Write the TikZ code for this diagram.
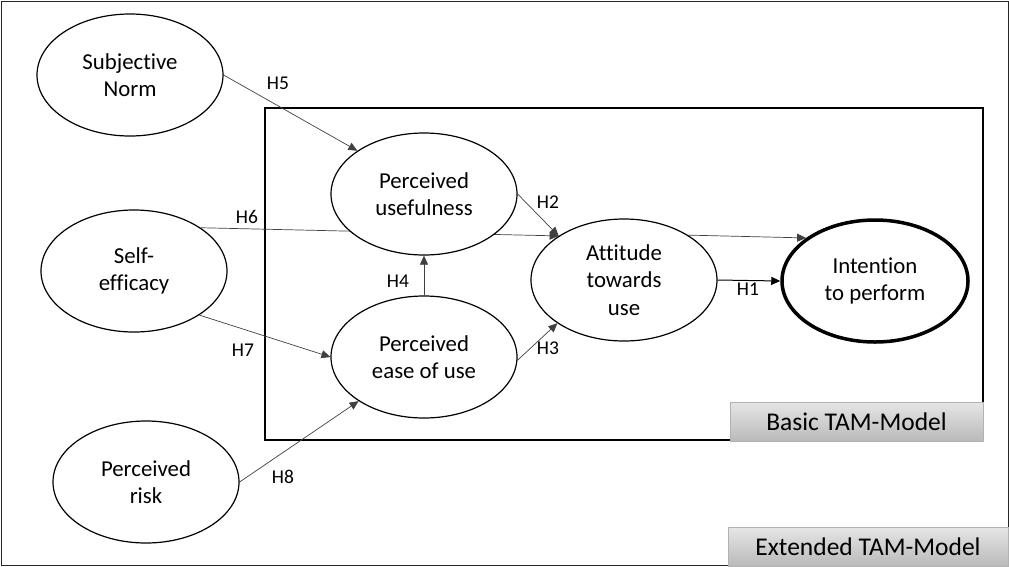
\documentclass[tikz,border=0pt]{standalone}
\usepackage{fontspec}
\setmainfont[Ligatures=NoCommon]{Carlito}
\usetikzlibrary{shapes.geometric,arrows.meta,backgrounds}

\tikzset{
  construct/.style={ellipse, draw, line width=1.2pt, fill=white,
    minimum width=186pt, minimum height=122pt, inner sep=0pt,
    align=center, font=\fontsize{22.8}{27.5}\selectfont},
  hyp/.style={->, draw=black!75, line width=0.7pt},
  hlabel/.style={inner sep=0pt, font=\fontsize{19.5}{23}\selectfont},
  modeltag/.style={draw=black!30, top color=black!10, bottom color=black!27,
    inner sep=0pt, minimum height=39pt, font=\fontsize{25.5}{30}\selectfont},
}

\begin{document}
\begin{tikzpicture}[x=1pt, y=-1pt, >={Triangle[length=9pt,width=8pt]}]
	\useasboundingbox (0,0) rectangle (1009,566);
	% constructs
	\node[construct] (sn) at (130,75) {Subjective\\Norm};
	\node[construct] (se) at (134,271) {Self-\\efficacy};
	\node[construct] (pr) at (146,482) {Perceived\\risk};
	\node[construct] (pu) at (424,194) {Perceived\\usefulness};
	\node[construct] (peou) at (424,357) {Perceived\\ease of use};
	\node[construct] (att) at (624,280) {Attitude\\towards\\use};
	\node[construct, line width=3.5pt] (int) at (875,281) {Intention\\to perform};
	% model tags
	\node[modeltag, minimum width=253pt] (basic) at (856.5,421.5) {Basic TAM-Model};
	\node[modeltag, minimum width=280pt] (ext) at (868,546.5) {Extended TAM-Model};
	% hypotheses
	\node[hlabel] (h1) at (748,289) {H1};
	\node[hlabel] (h2) at (548,202) {H2};
	\node[hlabel] (h3) at (548,348) {H3};
	\node[hlabel] (h4) at (398,281) {H4};
	\node[hlabel] (h5) at (278,83) {H5};
	\node[hlabel] (h6) at (247,217) {H6};
	\node[hlabel] (h7) at (243,350) {H7};
	\node[hlabel] (h8) at (283,477) {H8};
	\begin{scope}[on background layer]
		\draw[line width=1pt, black!85] (1,1) rectangle (1008,565);
		\draw[line width=1.2pt] (265,108) rectangle (983,440);
		\draw[hyp] (sn.east) -- (pu.147);
		\draw[hyp] (se.33) -- (att.146);
		\draw[hyp] (se.-34) -- (peou.west);
		\draw[hyp] (pr.east) -- (peou.214);
		\draw[hyp] (peou.north) -- (pu.south);
		\draw[hyp] (pu.east) -- (att.146);
		\draw[hyp] (peou.-2) -- (att.213);
		\draw[hyp] (att.35) -- (int.148);
		\draw[hyp, black, line width=1pt] (att.east) -- (int.west);
	\end{scope}
\end{tikzpicture}
\end{document}
